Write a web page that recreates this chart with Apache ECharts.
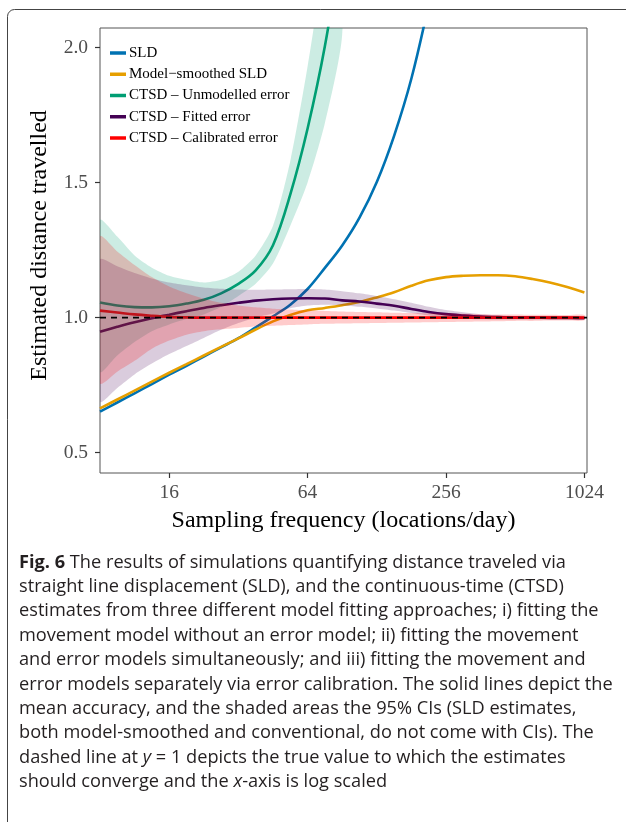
<!DOCTYPE html>
<html>
<head>
<meta charset="utf-8">
<script src="https://cdn.jsdelivr.net/npm/echarts@6/dist/echarts.min.js"></script>
<style>
  html, body { margin: 0; padding: 0; background: #ffffff; }
  #chart { width: 626px; height: 822px; }
</style>
</head>
<body>
<div id="chart"></div>
<script>
// Sampling frequencies (locations/day), quarter-octave steps from 8 to 1024
const freq = [8, 9.51, 11.31, 13.45, 16, 19.03, 22.63, 26.91, 32, 38.05, 45.25, 53.82, 64, 76.11,
  90.51, 107.63, 128, 152.22, 181.02, 215.27, 256, 304.44, 362.04, 430.54, 512, 608.87, 724.08, 861.08, 1024];

// Mean relative distance estimates
const sld = [0.652, 0.686, 0.720, 0.754, 0.789, 0.822, 0.856, 0.890, 0.924, 0.964, 1.005, 1.048, 1.106, 1.184,
  1.267, 1.370, 1.502, 1.673, 1.885, 2.16];
const smoothedSld = [0.664, 0.697, 0.730, 0.763, 0.796, 0.828, 0.860, 0.892, 0.923, 0.956, 0.986, 1.010, 1.027, 1.036,
  1.046, 1.058, 1.075, 1.094, 1.118, 1.138, 1.150, 1.155, 1.157, 1.157, 1.153, 1.143, 1.130, 1.113, 1.093];
const ctsdUnmodelled = [1.056, 1.045, 1.039, 1.038, 1.042, 1.052, 1.066, 1.090, 1.125, 1.175, 1.268, 1.456, 1.700,
  2.005, 2.400];
const ctsdFitted = [0.948, 0.966, 0.983, 0.998, 1.011, 1.024, 1.036, 1.046, 1.055, 1.063, 1.068, 1.071, 1.072, 1.071,
  1.064, 1.060, 1.052, 1.044, 1.032, 1.021, 1.013, 1.008, 1.004, 1.002, 1.000, 1.000, 0.999, 0.999, 0.998];
const ctsdCalibrated = [1.026, 1.019, 1.012, 1.007, 1.003, 1.001, 1.000, 1.000, 1.000, 1.000, 1.000, 1.000, 1.000,
  1.000, 1.000, 1.000, 1.000, 1.000, 1.000, 1.000, 1.000, 1.000, 1.000, 1.000, 1.000, 1.000, 1.000, 1.000, 1.000];

// 95% confidence intervals for the CTSD estimates
const unmodelledLo = [0.80, 0.86, 0.91, 0.95, 0.975, 0.995, 1.012, 1.04, 1.08, 1.125, 1.20, 1.34, 1.50, 1.72, 2.05];
const unmodelledHi = [1.36, 1.30, 1.23, 1.185, 1.155, 1.14, 1.13, 1.14, 1.17, 1.23, 1.34, 1.58, 1.93, 2.35, 2.80];
const fittedLo = [0.69, 0.74, 0.79, 0.83, 0.865, 0.895, 0.925, 0.955, 0.98, 1.0, 1.015, 1.035, 1.045, 1.048, 1.045,
  1.04, 1.034, 1.026, 1.017, 1.008, 1.0, 0.996, 0.994, 0.993, 0.993, 0.993, 0.994, 0.994, 0.994];
const fittedHi = [1.214, 1.19, 1.165, 1.145, 1.13, 1.12, 1.112, 1.107, 1.104, 1.103, 1.104, 1.105, 1.106, 1.104,
  1.098, 1.09, 1.08, 1.068, 1.055, 1.04, 1.028, 1.02, 1.013, 1.009, 1.006, 1.005, 1.004, 1.003, 1.003];
const calibratedLo = [0.757, 0.80, 0.84, 0.885, 0.915, 0.937, 0.95, 0.957, 0.962, 0.967, 0.970, 0.973, 0.975, 0.977,
  0.978, 0.979, 0.980, 0.981, 0.982, 0.983, 0.984, 0.985, 0.986, 0.987, 0.988, 0.988, 0.989, 0.989, 0.990];
const calibratedHi = [1.30, 1.245, 1.195, 1.15, 1.115, 1.09, 1.07, 1.055, 1.045, 1.038, 1.033, 1.030, 1.027, 1.025,
  1.023, 1.021, 1.020, 1.018, 1.017, 1.016, 1.015, 1.014, 1.013, 1.012, 1.012, 1.011, 1.011, 1.010, 1.010];

const trueValue = 1;
const xRange = [8, 1051];
const yRange = [0.425, 2.072];
const xTicks = [16, 64, 256, 1024];
const yTicks = [0.5, 1.0, 1.5, 2.0];

const captionLines = [
  '{b|Fig. 6} The results of simulations quantifying distance traveled via',
  'straight line displacement (SLD), and the continuous-time (CTSD)',
  'estimates from three different model fitting approaches; i) fitting the',
  'movement model without an error model; ii) fitting the movement',
  'and error models simultaneously; and iii) fitting the movement and',
  'error models separately via error calibration. The solid lines depict the',
  'mean accuracy, and the shaded areas the 95% CIs (SLD estimates,',
  'both model-smoothed and conventional, do not come with CIs). The',
  'dashed line at {i|y} = 1 depicts the true value to which the estimates',
  'should converge and the {i|x}-axis is log scaled'
];

const SERIF = 'Liberation Serif';
const SANS = 'Open Sans';
const CAPTION_SIZE = 18.2;

function pairs(vals) {
  return vals.map((v, i) => [freq[i], v]);
}

function lineSeries(name, vals, color) {
  return {
    name: name, type: 'line', data: pairs(vals), color: color,
    symbol: 'none', smooth: 0.35, clip: true, z: 2,
    lineStyle: { color: color, width: 2.6 },
    emphasis: { disabled: true }, silent: true
  };
}

// Ribbon between lower and upper CI edges, placed through the axes' scales
function bandSeries(key, lo, hi, fill) {
  return {
    name: key, type: 'custom', silent: true, z: 3,
    data: [[freq[0], lo[0]]],
    encode: { x: 0, y: 1 },
    renderItem: function (params, api) {
      const upper = hi.map((v, i) => api.coord([freq[i], v]));
      const lower = lo.map((v, i) => api.coord([freq[i], v])).reverse();
      const cs = params.coordSys;
      return {
        type: 'polygon',
        shape: { points: upper.concat(lower), smooth: 0.25 },
        style: { fill: fill, stroke: null },
        clipPath: { type: 'rect', shape: { x: cs.x, y: cs.y, width: cs.width, height: cs.height } }
      };
    }
  };
}

const series = [
  lineSeries('SLD', sld, '#0072B2'),
  lineSeries('Model\u2212smoothed SLD', smoothedSld, '#E69F00'),
  lineSeries('CTSD \u2013 Unmodelled error', ctsdUnmodelled, '#009E73'),
  lineSeries('CTSD \u2013 Fitted error', ctsdFitted, '#440154'),
  lineSeries('CTSD \u2013 Calibrated error', ctsdCalibrated, '#FF0000'),
  bandSeries('unmodelled-ci', unmodelledLo, unmodelledHi, 'rgba(0,158,115,0.2)'),
  bandSeries('fitted-ci', fittedLo, fittedHi, 'rgba(68,1,84,0.2)'),
  bandSeries('calibrated-ci', calibratedLo, calibratedHi, 'rgba(255,0,0,0.2)'),
  {
    // dashed horizontal reference at the true value, spanning the x range
    name: 'true value', type: 'line', silent: true, z: 10,
    data: xRange.map(x => [x, trueValue]),
    symbol: 'none',
    lineStyle: { color: '#000', width: 1.6, type: [6, 5] },
    emphasis: { disabled: true }
  }
];

const captionGraphics = captionLines.map((t, i) => ({
  type: 'text',
  x: 19,
  y: 562.5 + i * 24.4,
  style: {
    text: t,
    fill: '#231f20',
    fontFamily: SANS,
    fontSize: CAPTION_SIZE,
    verticalAlign: 'middle',
    rich: {
      b: { fontFamily: SANS, fontSize: CAPTION_SIZE, fontWeight: 'bold', fill: '#231f20' },
      i: { fontFamily: SANS, fontSize: CAPTION_SIZE, fontStyle: 'italic', fill: '#231f20' }
    }
  }
}));

const chart = echarts.init(document.getElementById('chart'), null, { renderer: 'canvas' });
chart.setOption({
  animation: false,
  backgroundColor: '#ffffff',
  grid: {
    left: 100, top: 28, right: 39, bottom: 349,
    show: true, borderColor: '#555555', borderWidth: 1, backgroundColor: 'transparent'
  },
  legend: {
    data: ['SLD', 'Model\u2212smoothed SLD', 'CTSD \u2013 Unmodelled error', 'CTSD \u2013 Fitted error',
      'CTSD \u2013 Calibrated error'],
    orient: 'vertical', left: 110, top: 42.5, itemGap: 0.25, padding: 0,
    icon: 'rect', itemWidth: 16, itemHeight: 3.5,
    textStyle: { fontFamily: SERIF, fontSize: 15, color: '#000', lineHeight: 21, padding: [0, 0, 0, -2] },
    selectedMode: false
  },
  xAxis: {
    type: 'log', logBase: 4, min: xRange[0], max: xRange[1],
    splitLine: { show: false }, minorTick: { show: false },
    axisLine: { show: false },
    axisTick: { show: true, length: 5, customValues: xTicks, lineStyle: { color: '#333', width: 1.2 } },
    axisLabel: {
      customValues: xTicks, margin: 10, color: '#4d4d4d', fontSize: 19.5, fontFamily: SERIF,
      formatter: v => String(Math.round(v))
    },
    name: 'Sampling frequency (locations/day)', nameLocation: 'middle', nameGap: 36,
    nameTextStyle: { fontFamily: SERIF, fontSize: 24, color: '#000' }
  },
  yAxis: {
    type: 'value', min: yRange[0], max: yRange[1],
    splitLine: { show: false },
    axisLine: { show: false },
    axisTick: { show: true, length: 5, customValues: yTicks, lineStyle: { color: '#333', width: 1.2 } },
    axisLabel: {
      customValues: yTicks, margin: 12, color: '#4d4d4d', fontSize: 19.5, fontFamily: SERIF,
      formatter: v => v.toFixed(1)
    },
    name: 'Estimated distance travelled', nameLocation: 'middle', nameGap: 48, nameRotate: 90,
    nameTextStyle: { fontFamily: SERIF, fontSize: 24, color: '#000', padding: [0, 0, 0, 10] }
  },
  series: series,
  graphic: [
    {
      type: 'rect', z: -10,
      shape: { x: 7.5, y: 9.5, width: 700, height: 900, r: 7 },
      style: { fill: 'none', stroke: '#444', lineWidth: 1 }
    },
    ...captionGraphics
  ]
});
</script>
</body>
</html>
